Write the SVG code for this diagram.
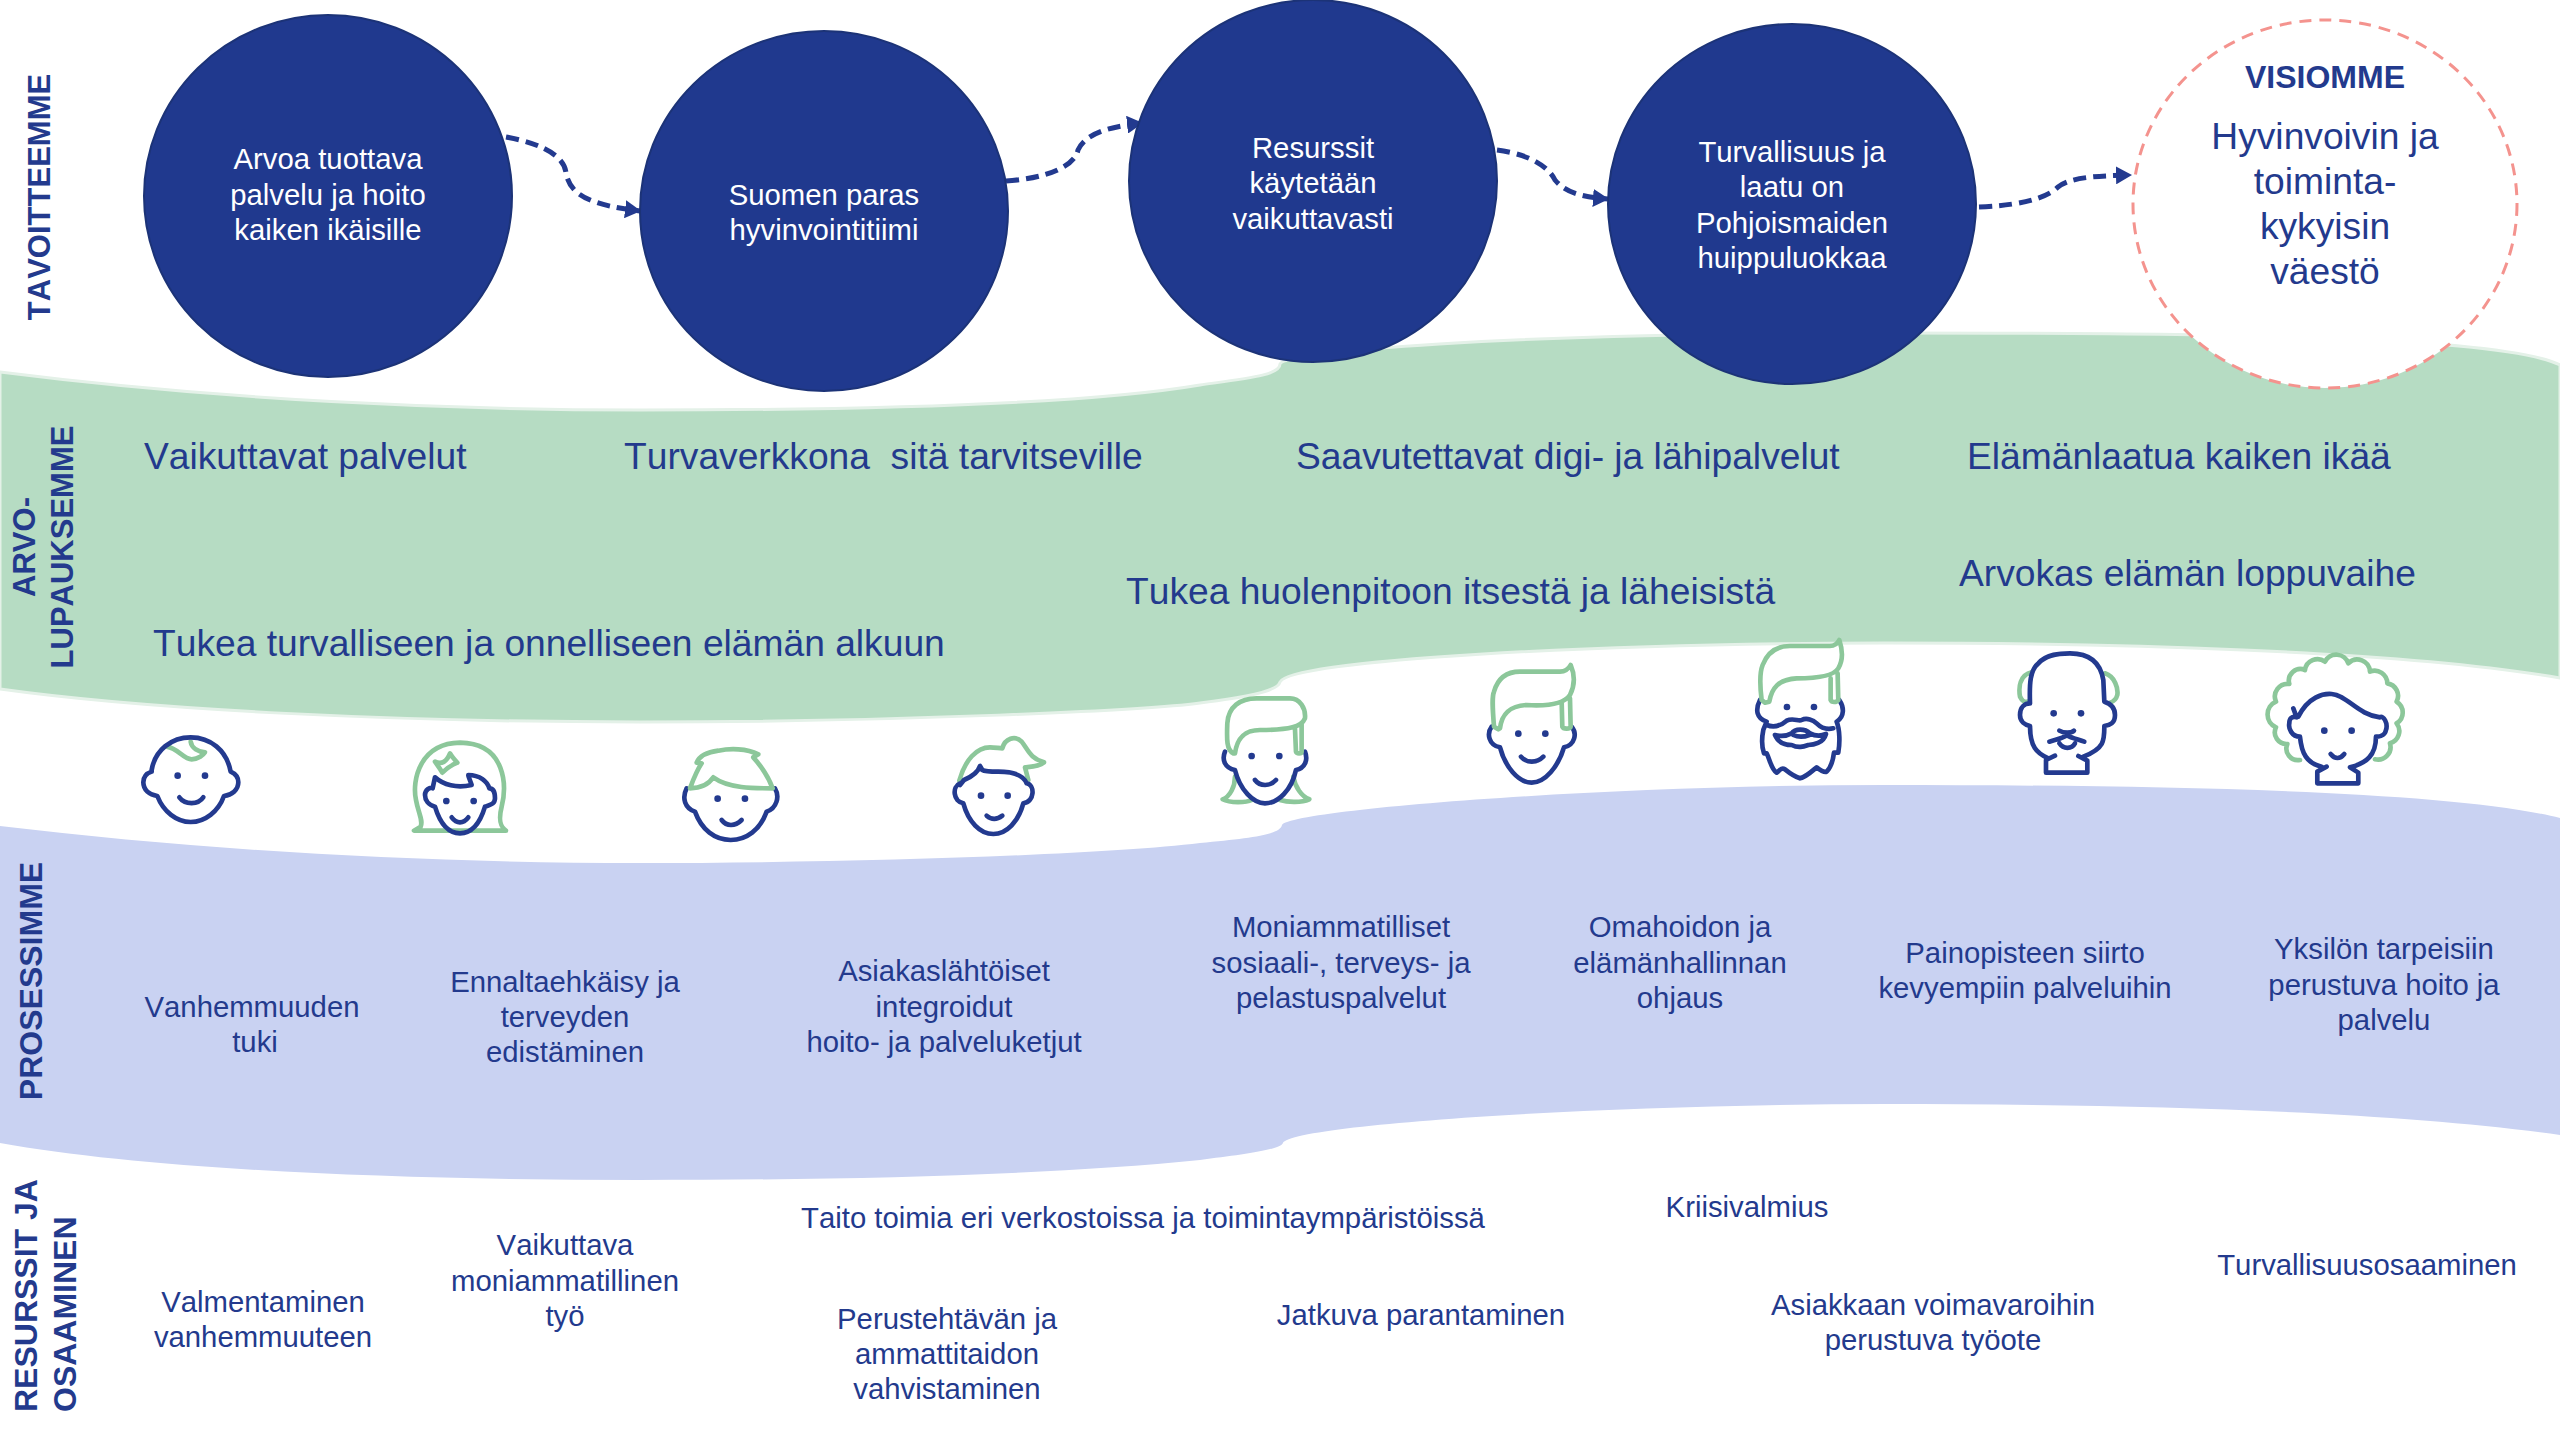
<svg xmlns="http://www.w3.org/2000/svg" width="2560" height="1440" viewBox="0 0 2560 1440">
<style>
text{font-family:"Liberation Sans",Arial,sans-serif;fill:#233a8d;font-size:29.3px;text-anchor:middle;font-kerning:none}
.w{fill:#fff}
.l{font-size:37.2px}
.s{text-anchor:start}
.b{font-weight:bold;font-size:31px}
.b2{font-weight:bold;font-size:32px}
.c{fill:#20398e;stroke:#1c3377;stroke-width:2}
.n{fill:none;stroke:#233a8f;stroke-width:14;stroke-linecap:round;stroke-linejoin:round}
.g{fill:none;stroke:#8cc79a;stroke-width:14;stroke-linecap:round;stroke-linejoin:round}
.e{fill:#233a8f}
.a{fill:none;stroke:#233a8f;stroke-width:5;stroke-dasharray:13 7;marker-end:url(#ah)}
</style>
<defs><marker id="ah" markerUnits="userSpaceOnUse" markerWidth="16" markerHeight="18" refX="15" refY="9" orient="auto"><path d="M0,0L16,9L0,18Z" fill="#233a8f"/></marker></defs>
<rect width="2560" height="1440" fill="#fff"/>
<g id="bands">
<path id="band-arvo" fill="#b6dcc3" stroke="#e4f1e8" stroke-width="3" d="M0,372C220,400 450,410 640,410C900,410 1100,402 1200,385C1250,378 1280,375 1280,364C1285,352 1500,333 1880,333C2200,333 2500,335 2560,365L2560,678C2400,650 2100,643 1885,643C1600,643 1290,660 1280,682C1278,692 1240,698 1200,703C1150,710 900,722 640,722C400,722 150,710 0,689Z"/>
<path id="band-prosessi" fill="#c9d2f2" d="M0,826C200,850 420,863 640,863C850,863 1100,855 1200,843C1250,838 1280,835 1282,825C1290,810 1600,785 1885,785C2150,785 2450,790 2560,818L2560,1135C2400,1112 2150,1104 1885,1104C1600,1104 1290,1125 1283,1143C1280,1150 1240,1155 1200,1160C1050,1175 850,1180 640,1180C400,1180 150,1170 0,1143Z"/>
</g>
<g id="connectors">
<path class="a" d="M506,137C550,145 565,160 566,173C570,195 590,205 640,211"/>
<path class="a" d="M1006,181C1050,178 1075,165 1078,150C1085,135 1105,127 1142,123"/>
<path class="a" d="M1497,150C1535,155 1550,170 1555,180C1565,192 1580,197 1608,199"/>
<path class="a" d="M1979,207C2030,205 2050,195 2058,187C2070,178 2090,176 2131,175"/>
</g>
<g id="goal-1"><ellipse class="c" cx="328" cy="196" rx="184" ry="181"/><text class="w" x="328" y="169">Arvoa tuottava</text><text class="w" x="328" y="205">palvelu ja hoito</text><text class="w" x="328" y="240">kaiken ikäisille</text></g>
<g id="goal-2"><ellipse class="c" cx="824" cy="211" rx="184" ry="180"/><text class="w" x="824" y="205">Suomen paras</text><text class="w" x="824" y="240">hyvinvointitiimi</text></g>
<g id="goal-3"><ellipse class="c" cx="1313" cy="181" rx="184" ry="181"/><text class="w" x="1313" y="158">Resurssit</text><text class="w" x="1313" y="193">käytetään</text><text class="w" x="1313" y="229">vaikuttavasti</text></g>
<g id="goal-4"><ellipse class="c" cx="1792" cy="204" rx="184" ry="180"/><text class="w" x="1792" y="162">Turvallisuus ja</text><text class="w" x="1792" y="197">laatu on</text><text class="w" x="1792" y="233">Pohjoismaiden</text><text class="w" x="1792" y="268">huippuluokkaa</text></g>
<g id="vision"><ellipse cx="2325" cy="204" rx="192" ry="184" fill="#fff" stroke="#f4938e" stroke-width="3" stroke-dasharray="12 8"/>
<text x="2325" y="88" style="font-weight:bold;font-size:32px">VISIOMME</text><text class="l" x="2325" y="149">Hyvinvoivin ja</text><text class="l" x="2325" y="194">toiminta-</text><text class="l" x="2325" y="239">kykyisin</text><text class="l" x="2325" y="284">väestö</text></g>
<g id="row-labels">
<text class="b" transform="translate(50,197) rotate(-90)">TAVOITTEEMME</text>
<text class="b" transform="translate(35,547) rotate(-90)">ARVO-</text>
<text class="b" transform="translate(73,547) rotate(-90)">LUPAUKSEMME</text>
<text class="b2" transform="translate(42,981) rotate(-90)">PROSESSIMME</text>
<text class="b2 s" transform="translate(37,1412) rotate(-90)">RESURSSIT JA</text>
<text class="b2 s" transform="translate(76,1412) rotate(-90)">OSAAMINEN</text>
</g>
<g id="promises">
<text class="l s" x="144" y="469">Vaikuttavat palvelut</text>
<text class="l s" x="624" y="469" xml:space="preserve">Turvaverkkona  sitä tarvitseville</text>
<text class="l s" x="1296" y="469">Saavutettavat digi- ja lähipalvelut</text>
<text class="l s" x="1967" y="469">Elämänlaatua kaiken ikää</text>
<text class="l s" x="153" y="656">Tukea turvalliseen ja onnelliseen elämän alkuun</text>
<text class="l s" x="1126" y="604">Tukea huolenpitoon itsestä ja läheisistä</text>
<text class="l s" x="1959" y="586">Arvokas elämän loppuvaihe</text>
</g>
<g id="faces">
<g id="face-1" transform="translate(120,720) scale(.3333)">
<path class="g" d="M140,80C175,85 190,118 215,118C235,118 250,105 255,97C235,95 215,85 212,65"/>
<path class="n" d="M95,150C105,90 155,52 212,52C270,52 320,90 332,155C348,162 355,175 355,187C355,210 335,225 312,228C295,275 255,306 212,306C170,306 130,275 112,228C88,225 70,210 70,187C70,172 80,160 95,155Z"/>
<circle class="e" cx="173" cy="167" r="10"/><circle class="e" cx="255" cy="167" r="10"/>
<path class="n" d="M178,232C195,255 235,255 250,232"/></g>
<g id="face-2" transform="translate(400,720) scale(.3333)">
<path class="g" d="M42,332L318,332C300,320 295,300 305,260C320,200 320,70 180,68C60,70 35,180 48,240C55,280 70,300 62,320Z"/>
<path class="g" d="M105,125C125,135 140,125 150,100C155,110 165,120 172,128C155,135 135,150 127,158C120,145 112,135 105,125Z"/>
<path class="n" d="M105,172C130,195 170,205 215,195C210,180 205,170 205,165C240,165 262,185 268,205C285,205 285,225 285,235C285,255 265,255 255,260C240,310 215,340 180,340C145,340 120,310 105,260C85,255 75,240 75,225C75,210 90,200 98,205Z"/>
<circle class="e" cx="139" cy="243" r="10"/><circle class="e" cx="221" cy="243" r="10"/>
<path class="n" d="M155,292C170,312 190,312 205,292"/></g>
<g id="face-3" transform="translate(400,720) scale(.3333)">
<path class="n" d="M860,205C845,235 855,265 885,275C905,330 945,360 992,360C1040,360 1080,330 1100,275C1130,265 1140,230 1125,205"/>
<path class="g" d="M870,205C885,165 895,145 905,130L890,128C900,105 930,95 955,92C990,85 1040,85 1075,103L1060,112C1085,140 1105,170 1118,205C1060,205 985,205 940,172C925,195 900,205 870,205Z"/>
<circle class="e" cx="953" cy="236" r="10"/><circle class="e" cx="1035" cy="236" r="10"/>
<path class="n" d="M965,300C980,320 1005,320 1025,300"/></g>
<g id="face-4" transform="translate(940,670) scale(.3333)">
<path class="g" d="M58,332C75,270 110,232 150,232C165,232 178,235 187,235C195,205 225,195 245,215C265,240 270,265 312,277C295,290 275,290 255,292L265,330"/>
<path class="n" d="M60,340C35,350 40,395 70,400C85,455 120,492 160,492C200,492 235,455 250,400C285,395 285,345 260,340C250,315 215,305 175,305C155,305 135,305 127,300L120,288C115,305 95,320 72,330L60,345"/>
<circle class="e" cx="123" cy="377" r="10"/><circle class="e" cx="203" cy="377" r="10"/>
<path class="n" d="M140,437C155,450 170,450 187,437"/></g>
<g id="face-5" transform="translate(940,670) scale(.3333)">
<path class="g" d="M885,320C885,350 870,380 848,388C870,400 920,398 935,390M1060,320C1065,350 1085,380 1108,388C1085,398 1045,398 1020,390"/>
<path class="n" d="M855,245C845,270 855,295 885,300C900,360 940,400 975,400C1015,400 1055,360 1068,300C1095,295 1105,270 1095,245"/>
<path class="g" d="M880,250C860,240 860,210 862,160C865,110 900,85 950,85L1050,85C1080,85 1098,115 1095,145C1085,170 1050,180 960,180C905,180 890,215 885,250ZM1085,160L1085,245C1085,252 1070,252 1068,245L1065,175"/>
<circle class="e" cx="935" cy="258" r="10"/><circle class="e" cx="1018" cy="258" r="10"/>
<path class="n" d="M945,330C960,350 990,350 1008,330"/></g>
<g id="face-6" transform="translate(1470,630) scale(.3333)">
<path class="n" d="M65,290C50,310 55,345 90,352C105,410 145,458 185,458C225,458 265,410 282,352C315,345 322,310 305,290"/>
<path class="g" d="M85,298L72,290C68,240 65,200 72,185C85,140 115,125 150,125L270,125C285,125 295,118 302,105C315,135 315,165 300,195C280,225 220,228 170,225C115,228 95,255 90,295ZM300,205L302,290C300,298 280,298 277,290L275,215"/>
<circle class="e" cx="145" cy="311" r="10"/><circle class="e" cx="226" cy="311" r="10"/>
<path class="n" d="M153,380C170,400 200,400 220,380"/></g>
<g id="face-7" transform="translate(1470,630) scale(.3333)">
<path class="n" d="M870,210C855,240 860,265 890,275L880,300C875,325 875,350 882,370L890,370C900,390 905,420 920,428C930,420 935,412 945,418C960,430 975,440 990,445C1010,440 1030,420 1040,412C1050,420 1060,428 1070,425C1085,410 1090,385 1092,368L1105,368C1110,340 1110,300 1100,275C1125,260 1122,230 1108,210"/>
<path class="n" d="M890,285C915,295 935,285 950,272C970,262 985,275 995,270C1010,262 1030,270 1040,280C1055,295 1070,300 1090,295M915,315C935,320 950,318 965,310C975,295 1005,295 1020,310C1035,318 1050,320 1068,312C1060,340 1030,345 1015,345C1000,350 985,355 965,345C950,345 925,340 915,315ZM970,315C985,322 1000,322 1018,315"/>
<path class="g" d="M885,218L875,210C870,170 868,130 878,105C895,60 930,48 960,48L1080,48C1095,48 1103,40 1108,30C1118,60 1120,90 1105,115C1090,140 1030,145 980,145C925,148 905,175 898,215ZM1103,130L1105,210C1100,218 1085,218 1082,210L1082,145"/>
<circle class="e" cx="951" cy="231" r="10"/><circle class="e" cx="1032" cy="231" r="10"/></g>
<g id="face-8" transform="translate(2000,640) scale(.3333)">
<path class="g" d="M95,97C60,105 55,140 60,170C65,180 70,188 85,185M315,100C345,110 355,145 352,165C348,180 340,185 330,188"/>
<path class="n" d="M90,190C88,130 90,90 115,70C140,42 180,40 210,40C260,40 300,60 310,120L313,185C330,190 345,200 345,225C345,250 330,255 313,258C313,300 315,325 250,350M235,348L262,362L262,398L138,398L138,360L165,347M145,355C110,340 90,320 90,258C75,255 60,245 60,225C60,200 75,190 90,190"/>
<path class="n" d="M178,272C190,280 215,280 222,272M148,305C170,298 190,295 200,285C215,295 235,298 253,305M178,310C190,328 215,328 225,310"/>
<circle class="e" cx="161" cy="220" r="10"/><circle class="e" cx="243" cy="220" r="10"/></g>
<g id="face-9" transform="translate(2000,640) scale(.3333)">
<path class="g" d="M900,360A35,35 0 0 1 862,312A35,35 0 0 1 828,262A42,42 0 0 1 828,185A38,38 0 0 1 868,132A35,35 0 0 1 915,90A38,38 0 0 1 975,65A38,38 0 0 1 1045,70A38,38 0 0 1 1110,95A38,38 0 0 1 1162,130A38,38 0 0 1 1190,185A38,38 0 0 1 1190,250A38,38 0 0 1 1170,310A38,38 0 0 1 1125,358"/>
<path class="n" d="M895,230C925,170 970,160 995,162C1040,165 1075,225 1140,232C1150,225 1165,250 1158,270C1155,290 1130,290 1128,290C1128,345 1100,370 1050,382L1075,398L1075,430L952,430L952,395L980,380M965,380C920,370 905,340 900,290C875,290 865,265 868,250C868,235 875,228 890,232L880,205"/>
<circle class="e" cx="973" cy="272" r="10"/><circle class="e" cx="1055" cy="272" r="10"/>
<path class="n" d="M992,342C1005,358 1020,358 1033,342"/></g>
</g>
<g id="processes">
<text x="252" y="1017">Vanhemmuuden</text><text x="255" y="1052">tuki</text>
<text x="565" y="992">Ennaltaehkäisy ja</text><text x="565" y="1027">terveyden</text><text x="565" y="1062">edistäminen</text>
<text x="944" y="981">Asiakaslähtöiset</text><text x="944" y="1017">integroidut</text><text x="944" y="1052">hoito- ja palveluketjut</text>
<text x="1341" y="937">Moniammatilliset</text><text x="1341" y="973">sosiaali-, terveys- ja</text><text x="1341" y="1008">pelastuspalvelut</text>
<text x="1680" y="937">Omahoidon ja</text><text x="1680" y="973">elämänhallinnan</text><text x="1680" y="1008">ohjaus</text>
<text x="2025" y="963">Painopisteen siirto</text><text x="2025" y="998">kevyempiin palveluihin</text>
<text x="2384" y="959">Yksilön tarpeisiin</text><text x="2384" y="995">perustuva hoito ja</text><text x="2384" y="1030">palvelu</text>
</g>
<g id="resources">
<text x="263" y="1312">Valmentaminen</text><text x="263" y="1347">vanhemmuuteen</text>
<text x="565" y="1255">Vaikuttava</text><text x="565" y="1291">moniammatillinen</text><text x="565" y="1326">työ</text>
<text x="1143" y="1228">Taito toimia eri verkostoissa ja toimintaympäristöissä</text>
<text x="947" y="1329">Perustehtävän ja</text><text x="947" y="1364">ammattitaidon</text><text x="947" y="1399">vahvistaminen</text>
<text x="1421" y="1325">Jatkuva parantaminen</text>
<text x="1747" y="1217">Kriisivalmius</text>
<text x="1933" y="1315">Asiakkaan voimavaroihin</text><text x="1933" y="1350">perustuva työote</text>
<text x="2367" y="1275">Turvallisuusosaaminen</text>
</g>
</svg>
